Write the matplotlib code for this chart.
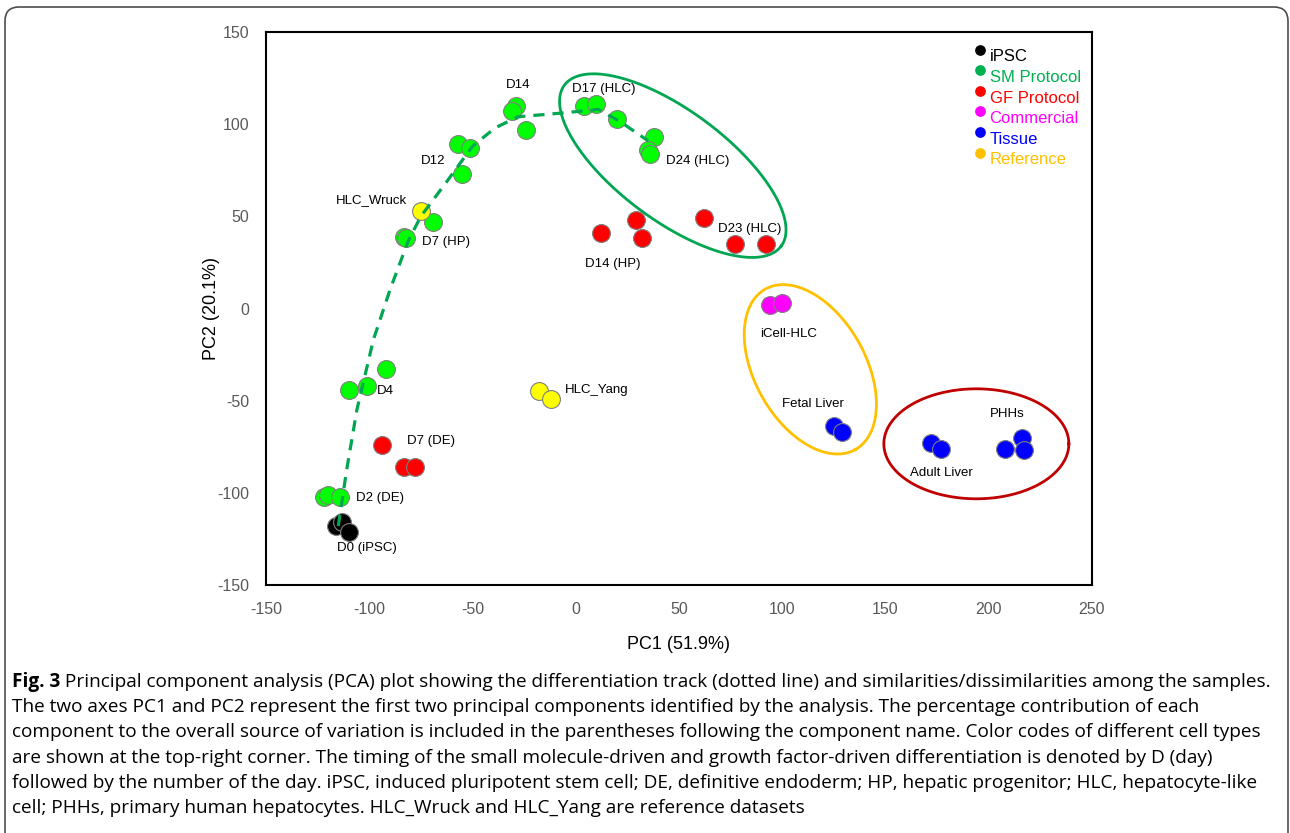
import numpy as np
import matplotlib
matplotlib.use("Agg")
import matplotlib.pyplot as plt
from matplotlib.patches import FancyBboxPatch
from matplotlib.transforms import IdentityTransform

plt.rcParams["font.family"] = ["Liberation Sans", "DejaVu Sans"]
plt.rcParams["axes.unicode_minus"] = False

# ---- data (PC1, PC2) ----
ipsc_x = [-116, -113, -110]
ipsc_y = [-118, -116, -121]

sm_x = [-122, -120, -114,          # D2
        -110, -101, -92,           # D4
        -83, -82, -69,             # D7 (HP)
        -57, -51, -55,             # D12
        -29, -31, -24,             # D14
        4, 10, 20,                 # D17
        38, 35, 36]                # D24
sm_y = [-102, -101, -102,
        -44, -42, -33,
        39, 38, 47,
        89, 87, 73,
        110, 107, 97,
        110, 111, 103,
        93, 86, 84]

gf_x = [-94, -83, -78,             # D7 (DE)
        12, 29, 32,                # D14 (HP)
        62, 77, 92]                # D23 (HLC)
gf_y = [-74, -86, -86,
        41, 48, 38,
        49, 35, 35]

comm_x = [94, 100]
comm_y = [2, 3]

tissue_x = [125, 129,              # fetal liver
            172, 177,              # adult liver
            216, 208, 217]         # PHHs
tissue_y = [-64, -67,
            -73, -76,
            -70, -76, -77]

ref_x = [-75, -18, -12]            # HLC_Wruck, HLC_Yang
ref_y = [53, -45, -49]

# differentiation track (dotted line)
track_x = [-115, -111, -106, -98, -90, -81, -75, -63, -50, -39, -28, -7, 11, 22, 35]
track_y = [-118, -88, -55, -17, 10, 37, 50, 68, 88, 98, 104, 106, 108, 101, 91]

labels = ["D0 (iPSC)", "D2 (DE)", "D4", "D7 (DE)", "D7 (HP)", "HLC_Wruck", "D12",
          "D14", "D17 (HLC)", "D24 (HLC)", "D14 (HP)", "D23 (HLC)", "HLC_Yang",
          "iCell-HLC", "Fetal Liver", "Adult Liver", "PHHs"]
label_x = [-101, -95, -92, -70, -63, -99, -69, -28, 13.5, 59, 18, 84, 10, 103, 115, 177, 209]
label_y = [-130, -103, -45, -72, 36, 59, 80, 121, 119, 80, 24, 43, -44, -14, -52, -89, -57]

legend_names = ["iPSC", "SM Protocol", "GF Protocol", "Commercial", "Tissue", "Reference"]
legend_colors = ["#000000", "#00B050", "#FF0000", "#FF00FF", "#0000FF", "#FFC000"]

fig = plt.figure(figsize=(12.9, 8.33), dpi=100)
ax = fig.add_axes([0.2062, 0.2977, 0.6403, 0.6639])
ax.set_xlim(-150, 250)
ax.set_ylim(-150, 150)

# pixel-per-unit, used to draw the grouping ellipses in screen proportions
px_x = 0.6403 * 1290 / 400
px_y = 0.6639 * 833 / 300


def ellipse(cx, cy, a, b, ang, color):
    t = np.linspace(0, 2 * np.pi, 300)
    r = np.deg2rad(ang)
    dx = a * np.cos(t) * np.cos(r) - b * np.sin(t) * np.sin(r)
    dy = a * np.cos(t) * np.sin(r) + b * np.sin(t) * np.cos(r)
    ax.plot(cx + dx / px_x, cy + dy / px_y, color=color, lw=2.0, zorder=1)


ellipse(47, 77.5, 135, 55, -36.6, "#00A651")
ellipse(113.6, -33, 92, 55.5, -60.7, "#FFC000")
ellipse(194, -73.4, 92.5, 55, 0, "#C00000")

ax.plot(track_x, track_y, color="#00A651", lw=2.3, ls=(0, (3.5, 2.5)), zorder=3)

ms = 165
ec = "#7F7F7F"
ax.scatter(ipsc_x, ipsc_y, s=ms, c="#000000", edgecolors=ec, linewidths=0.8, zorder=2)
ax.scatter(sm_x, sm_y, s=ms, c="#00FF00", edgecolors=ec, linewidths=0.8, zorder=2)
ax.scatter(gf_x, gf_y, s=ms, c="#FF0000", edgecolors=ec, linewidths=0.8, zorder=2)
ax.scatter(comm_x, comm_y, s=ms, c="#FF00FF", edgecolors=ec, linewidths=0.8, zorder=2)
ax.scatter(tissue_x, tissue_y, s=ms, c="#0000FF", edgecolors=ec, linewidths=0.8, zorder=2)
ax.scatter(ref_x, ref_y, s=ms, c="#FFFF00", edgecolors=ec, linewidths=0.8, zorder=2)

for lab, lx, ly in zip(labels, label_x, label_y):
    ax.text(lx, ly, lab, ha="center", va="center", fontsize=9.5, color="#000000", zorder=4)

# legend: coloured dots with coloured text
for i, (name, col) in enumerate(zip(legend_names, legend_colors)):
    yy = 0.955 - i * 0.0372
    ax.scatter([0.865], [yy + 0.013], s=45, c=col, transform=ax.transAxes, zorder=5)
    ax.text(0.876, yy, name, color=col, fontsize=12, va="center", ha="left",
            transform=ax.transAxes)

ax.set_xticks(np.arange(-150, 251, 50))
ax.set_yticks(np.arange(-150, 151, 50))
ax.tick_params(length=0, labelsize=11.5, labelcolor="#595959", pad=12)
for s in ax.spines.values():
    s.set_linewidth(1.5)
ax.set_xlabel("PC1 (51.9%)", fontsize=13, labelpad=14)
ax.set_ylabel("PC2 (20.1%)", fontsize=13, labelpad=-2)

# caption
cap_font = ["Open Sans", "DejaVu Sans"]
cap_size = 13.7
cap_lines = [
    " Principal component analysis (PCA) plot showing the differentiation track (dotted line) and similarities/dissimilarities among the samples.",
    "The two axes PC1 and PC2 represent the first two principal components identified by the analysis. The percentage contribution of each",
    "component to the overall source of variation is included in the parentheses following the component name. Color codes of different cell types",
    "are shown at the top-right corner. The timing of the small molecule-driven and growth factor-driven differentiation is denoted by D (day)",
    "followed by the number of the day. iPSC, induced pluripotent stem cell; DE, definitive endoderm; HP, hepatic progenitor; HLC, hepatocyte-like",
    "cell; PHHs, primary human hepatocytes. HLC_Wruck and HLC_Yang are reference datasets",
]
x0 = 12 / 1290
for i, line in enumerate(cap_lines):
    yy = 1 - (682 + i * 25.2) / 833
    if i == 0:
        t = fig.text(x0, yy, "Fig. 3", fontweight="bold", family=cap_font,
                     fontsize=cap_size, va="center", ha="left")
        ax.annotate(line, xy=(1, 0.5), xycoords=t, va="center", ha="left",
                    family=cap_font, fontsize=cap_size, annotation_clip=False)
    else:
        fig.text(x0, yy, line, family=cap_font, fontsize=cap_size, va="center", ha="left")

# rounded frame around the figure
frame = FancyBboxPatch((5, -60), 1283, 826 + 60, boxstyle="round,pad=0,rounding_size=14",
                       transform=IdentityTransform(), fill=False, edgecolor="#4D4D4D", lw=1.2)
fig.patches.append(frame)

fig.savefig("out.png", dpi=100)
